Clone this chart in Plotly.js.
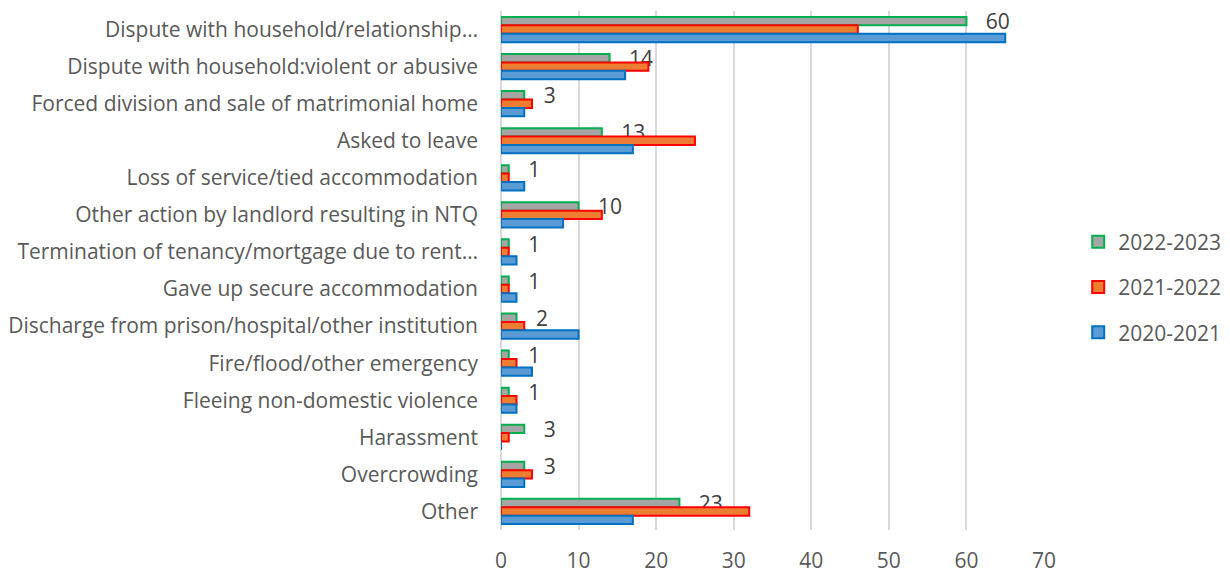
<!DOCTYPE html>
<html>
<head>
<meta charset="utf-8">
<script src="https://cdn.plot.ly/plotly-3.0.1.min.js"></script>
<style>html,body{margin:0;padding:0;background:#fff}#chart{width:1230px;height:573px}</style>
</head>
<body>
<div id="chart"></div>
<script>
const categories = [
  "Dispute with household/relationship…",
  "Dispute with household:violent or abusive",
  "Forced division and sale of matrimonial home",
  "Asked to leave",
  "Loss of service/tied accommodation",
  "Other action by landlord resulting in NTQ",
  "Termination of tenancy/mortgage due to rent…",
  "Gave up secure accommodation",
  "Discharge from prison/hospital/other institution",
  "Fire/flood/other emergency",
  "Fleeing non-domestic violence",
  "Harassment",
  "Overcrowding",
  "Other"
];
const seriesNames = ["2022-2023", "2021-2022", "2020-2021"];
const values2022_2023 = [60, 14, 3, 13, 1, 10, 1, 1, 2, 1, 1, 3, 3, 23];
const values2021_2022 = [46, 19, 4, 25, 1, 13, 1, 1, 3, 2, 2, 1, 4, 32];
const values2020_2021 = [65, 16, 3, 17, 3, 8, 2, 2, 10, 4, 2, 0, 3, 17];
const xTicks = [0, 10, 20, 30, 40, 50, 60, 70];

const font = "'Open Sans', sans-serif";
const fs = 21;
const fills = ["#A5A5A5", "#ED7D31", "#5B9BD5"];
const borders = ["#00B050", "#FF0000", "#0070C0"];
const data = [values2022_2023, values2021_2022, values2020_2021].map((v, i) => ({
  type: "bar",
  orientation: "h",
  name: seriesNames[i],
  y: categories,
  x: v,
  legendgroup: "g" + i,
  marker: {color: fills[i], line: {color: borders[i], width: 2}},
  text: i === 0 ? v.map(String) : undefined,
  texttemplate: i === 0 ? "   %{x}" : undefined,
  textposition: i === 0 ? "outside" : "none",
  constraintext: "none",
  cliponaxis: false,
  textfont: {family: font, size: fs, color: "#404040"},
  hoverinfo: "x+y"
}));

const layout = {
  width: 1230, height: 573,
  margin: {l: 501, r: 186, t: 11, b: 43, autoexpand: false},
  paper_bgcolor: "#fff", plot_bgcolor: "#fff",
  barmode: "group", bargap: 0.32, bargroupgap: 0,
  font: {family: font, size: fs, color: "#595959"},
  xaxis: {
    range: [0, 70], tickvals: xTicks, ticktext: xTicks.map(String),
    showgrid: true, gridcolor: "#D9D9D9", gridwidth: 2,
    zeroline: true, zerolinecolor: "#D9D9D9", zerolinewidth: 2,
    showline: false, ticks: "", ticklabelstandoff: 16,
    tickfont: {size: fs, color: "#595959"}, fixedrange: true, automargin: false
  },
  yaxis: {
    type: "category", autorange: "reversed", showgrid: false, zeroline: false,
    showline: false, ticks: "", ticklabelstandoff: 22,
    tickfont: {size: fs, color: "#595959"}, automargin: false
  },
  legend: {
    x: 1.063, y: 0.468, xanchor: "left", yanchor: "middle",
    font: {size: fs, color: "#595959"}, tracegroupgap: 15, traceorder: "grouped",
    itemwidth: 30
  },
  showlegend: true
};
Plotly.newPlot("chart", data, layout, {displayModeBar: false, staticPlot: true});
</script>
</body>
</html>
